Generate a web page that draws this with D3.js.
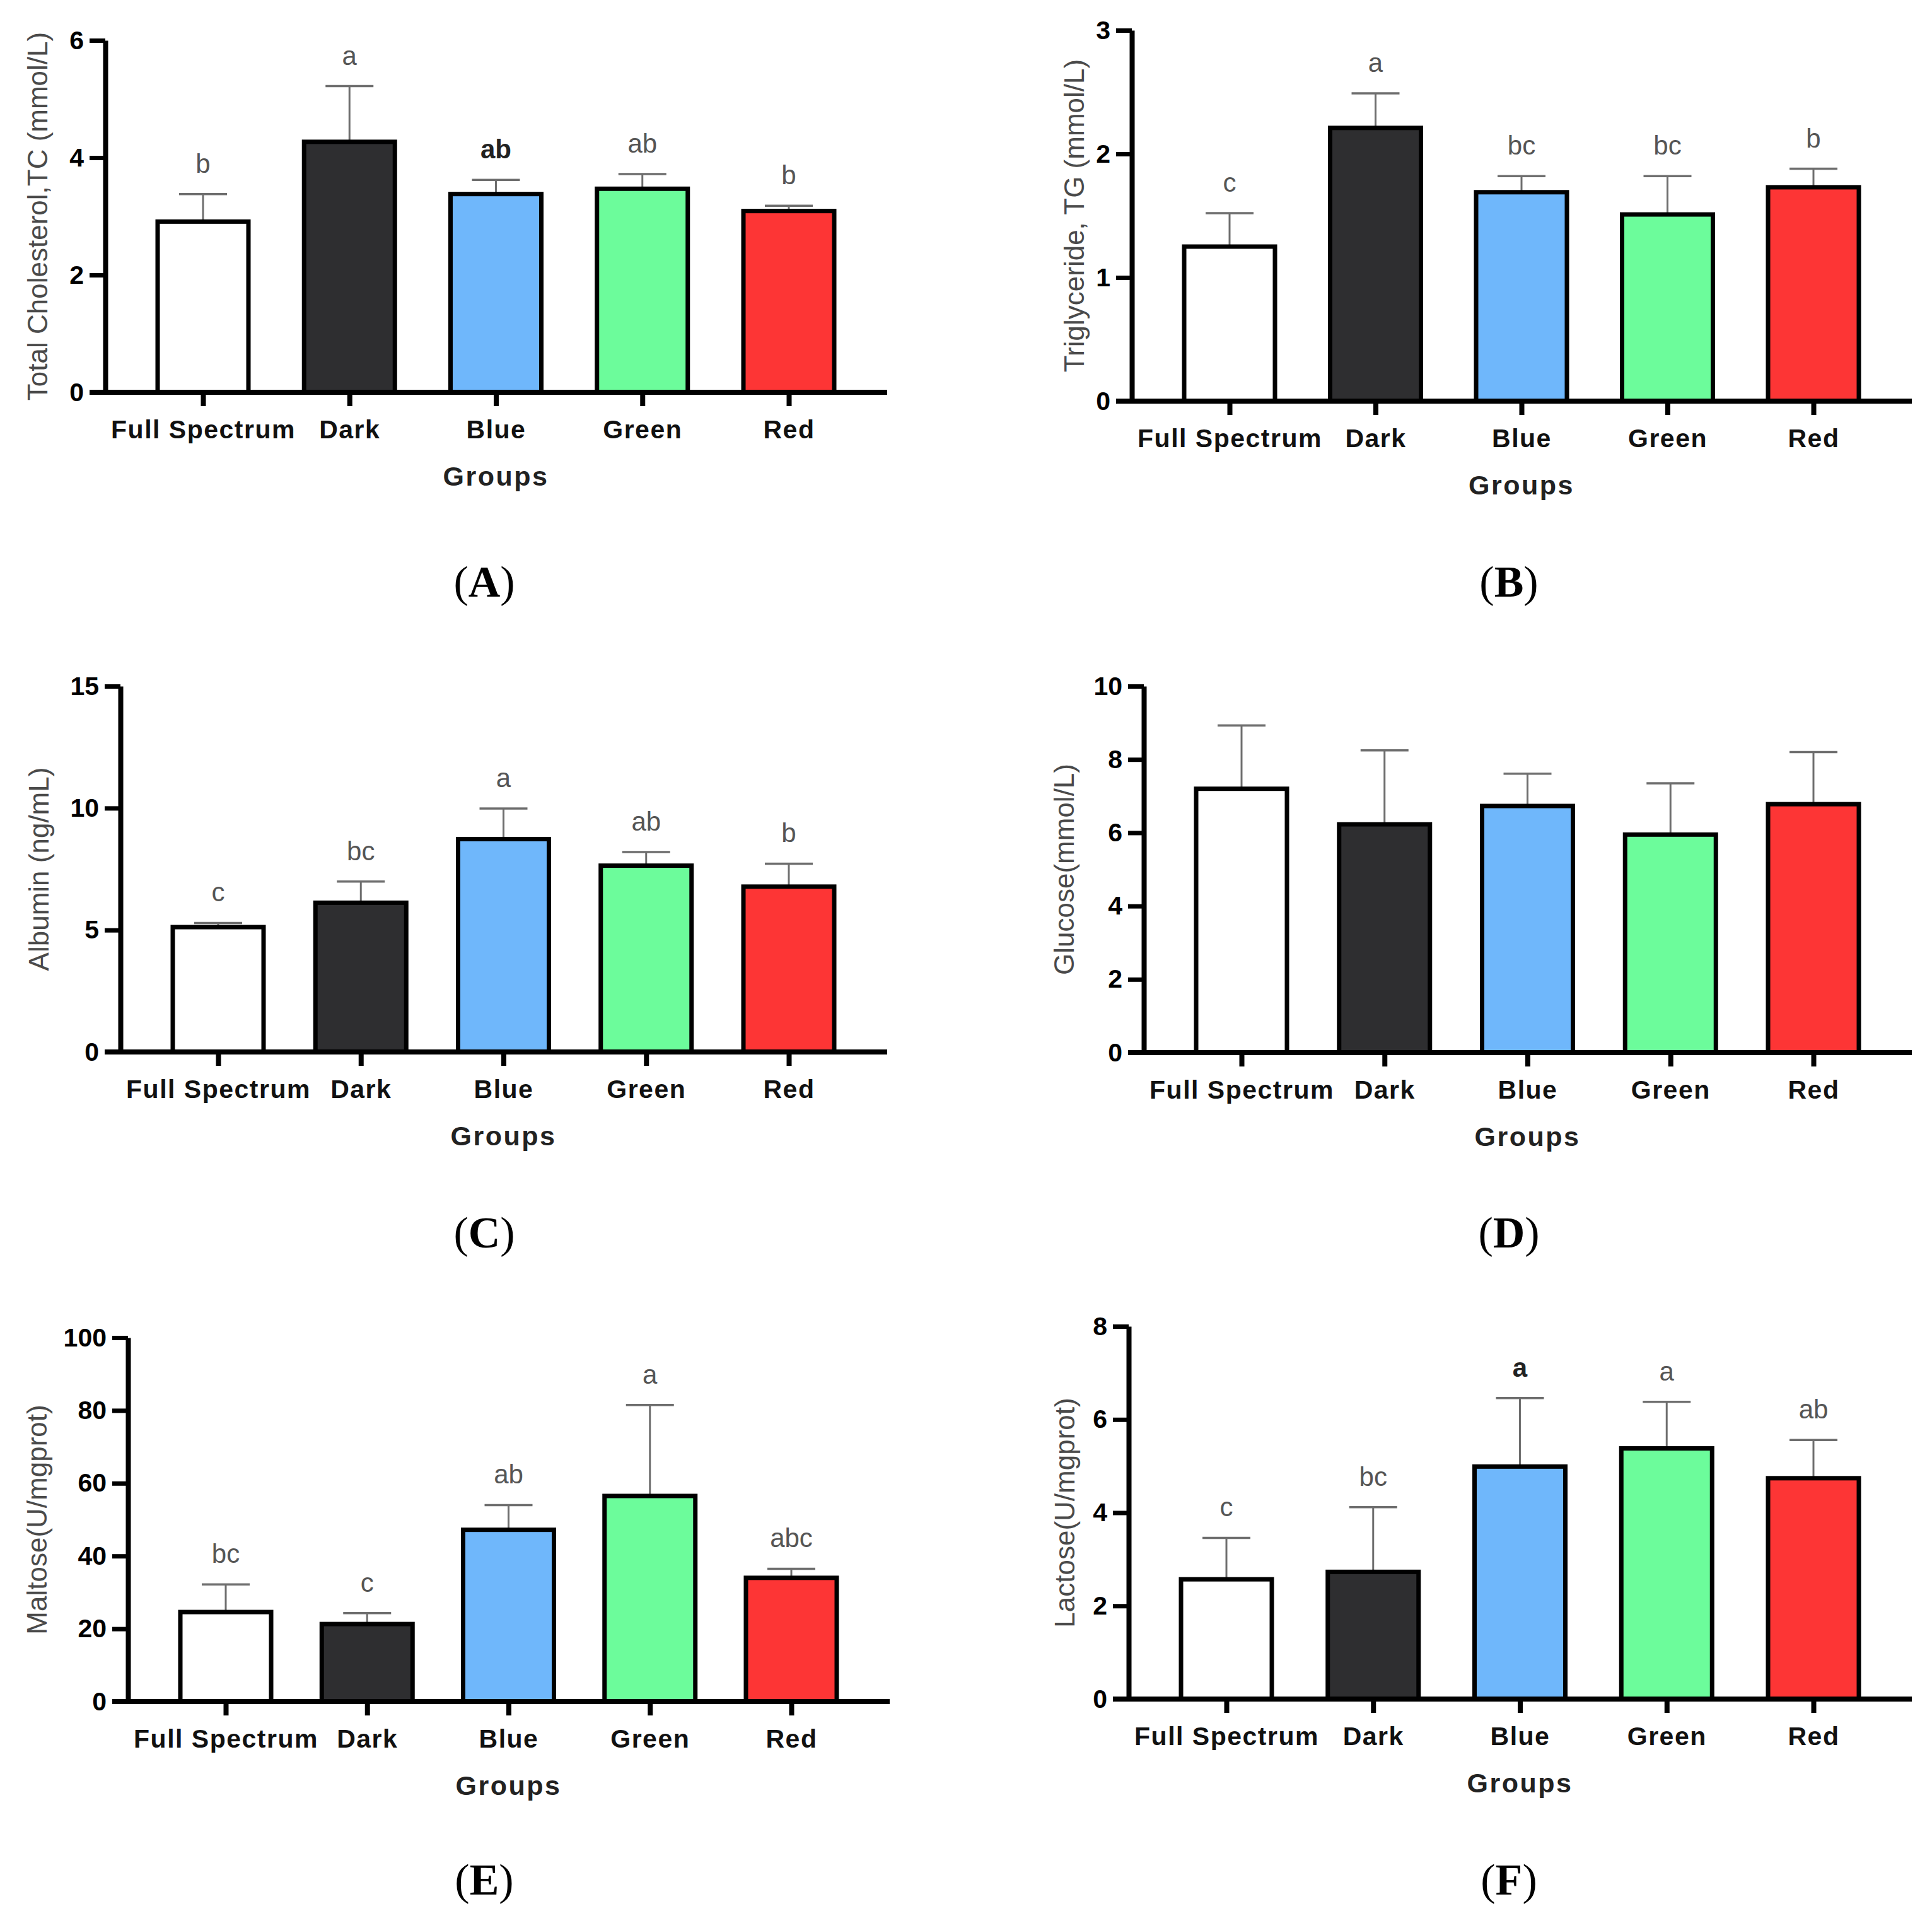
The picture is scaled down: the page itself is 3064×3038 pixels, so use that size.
<!DOCTYPE html>
<html>
<head>
<meta charset="utf-8">
<script src="https://cdn.jsdelivr.net/npm/d3@7"></script>
<style>
  body { margin: 0; background: #fff; }
  text { font-family: "Liberation Sans", Arial, sans-serif; }
</style>
</head>
<body>
<div id="chart"></div>
<script>
// values (mean and upper error = SD)
const categories = ["Full Spectrum", "Dark", "Blue", "Green", "Red"];
const barColors = ["#ffffff", "#2e2e30", "#6fb7fb", "#6cfc9b", "#fd3535"];

const tcMean = [2.91, 4.27, 3.38, 3.47, 3.09];
const tcSd = [0.47, 0.95, 0.24, 0.25, 0.09];
const tcLetters = ["b", "a", "ab", "ab", "b"];

const tgMean = [1.25, 2.21, 1.69, 1.51, 1.73];
const tgSd = [0.27, 0.28, 0.13, 0.31, 0.15];
const tgLetters = ["c", "a", "bc", "bc", "b"];

const albMean = [5.12, 6.12, 8.73, 7.64, 6.78];
const albSd = [0.17, 0.87, 1.25, 0.56, 0.94];
const albLetters = ["c", "bc", "a", "ab", "b"];

const gluMean = [7.20, 6.23, 6.73, 5.95, 6.78];
const gluSd = [1.73, 2.02, 0.88, 1.40, 1.42];

const malMean = [24.6, 21.3, 47.2, 56.5, 34.0];
const malSd = [7.6, 3.0, 6.8, 25.0, 2.5];
const malLetters = ["bc", "c", "ab", "a", "abc"];

const lacMean = [2.57, 2.73, 4.99, 5.38, 4.74];
const lacSd = [0.89, 1.39, 1.47, 1.00, 0.82];
const lacLetters = ["c", "bc", "a", "a", "ab"];

const tcTicks = [0, 2, 4, 6];
const tgTicks = [0, 1, 2, 3];
const albTicks = [0, 5, 10, 15];
const gluTicks = [0, 2, 4, 6, 8, 10];
const malTicks = [0, 20, 40, 60, 80, 100];
const lacTicks = [0, 2, 4, 6, 8];

// panel layout
const panels = [
  { tag: "A", ylabel: "Total Cholesterol,TC (mmol/L)", mean: tcMean, sd: tcSd, letters: tcLetters, ticks: tcTicks, boldLetter: 2,
    x0: 167, x1: 1407, top: 64, zero: 622, labelX: 60, tagX: 768, tagY: 946 },
  { tag: "B", ylabel: "Triglyceride, TG (mmol/L)", mean: tgMean, sd: tgSd, letters: tgLetters, ticks: tgTicks, boldLetter: -1,
    x0: 1795, x1: 3032, top: 48, zero: 636, labelX: 1704, tagX: 2393, tagY: 946 },
  { tag: "C", ylabel: "Albumin (ng/mL)", mean: albMean, sd: albSd, letters: albLetters, ticks: albTicks, boldLetter: -1,
    x0: 191, x1: 1407, top: 1088, zero: 1668, labelX: 62, tagX: 768, tagY: 1978 },
  { tag: "D", ylabel: "Glucose(mmol/L)", mean: gluMean, sd: gluSd, letters: null, ticks: gluTicks, boldLetter: -1,
    x0: 1814, x1: 3032, top: 1088, zero: 1669, labelX: 1688, tagX: 2393, tagY: 1978 },
  { tag: "E", ylabel: "Maltose(U/mgprot)", mean: malMean, sd: malSd, letters: malLetters, ticks: malTicks, boldLetter: -1,
    x0: 203, x1: 1411, top: 2121, zero: 2698, labelX: 59, tagX: 768, tagY: 3004 },
  { tag: "F", ylabel: "Lactose(U/mgprot)", mean: lacMean, sd: lacSd, letters: lacLetters, ticks: lacTicks, boldLetter: 2,
    x0: 1790, x1: 3032, top: 2103, zero: 2694, labelX: 1689, tagX: 2393, tagY: 3004 }
];

const svg = d3.select("#chart").append("svg")
    .attr("width", 3064)
    .attr("height", 3038)
    .style("background", "#fff");

const barWidth = 144;
const capWidth = 76;

panels.forEach(p => {
    const g = svg.append("g");
    const rows = categories.map((c, i) => ({ cat: c, mean: p.mean[i], sd: p.sd[i], color: barColors[i], i }));

    const x = d3.scalePoint()
        .domain(categories)
        .range([p.x0 + 155, p.x1 - 156]);

    const y = d3.scaleLinear()
        .domain([0, d3.max(p.ticks)])
        .range([p.zero, p.top]);

    // error bars (upper only), drawn under the bars
    g.selectAll("line.err")
      .data(rows)
      .join("line")
        .attr("class", "err")
        .attr("x1", d => x(d.cat))
        .attr("x2", d => x(d.cat))
        .attr("y1", d => y(d.mean))
        .attr("y2", d => y(d.mean + d.sd))
        .attr("stroke", "#6e6e6e")
        .attr("stroke-width", 3);

    g.selectAll("line.cap")
      .data(rows)
      .join("line")
        .attr("class", "cap")
        .attr("x1", d => x(d.cat) - capWidth / 2)
        .attr("x2", d => x(d.cat) + capWidth / 2)
        .attr("y1", d => y(d.mean + d.sd))
        .attr("y2", d => y(d.mean + d.sd))
        .attr("stroke", "#6e6e6e")
        .attr("stroke-width", 3.5);

    g.selectAll("rect")
      .data(rows)
      .join("rect")
        .attr("x", d => x(d.cat) - barWidth / 2)
        .attr("width", barWidth)
        .attr("y", d => y(d.mean))
        .attr("height", d => y(0) - y(d.mean))
        .attr("fill", d => d.color)
        .attr("stroke", "#000")
        .attr("stroke-width", 7);

    // y axis
    const yAxis = g.append("g")
        .attr("transform", `translate(${p.x0},0)`)
        .call(d3.axisLeft(y).tickValues(p.ticks).tickFormat(d3.format("d"))
            .tickSize(25).tickSizeOuter(0).tickPadding(9));
    yAxis.select(".domain").attr("stroke-width", 8).attr("stroke", "#000");
    yAxis.selectAll(".tick line").attr("stroke-width", 7).attr("stroke", "#000");
    yAxis.selectAll("text")
        .attr("fill", "#000")
        .style("font-size", "41px")
        .style("font-weight", "bold")
        .style("font-family", "'Liberation Sans', Arial, sans-serif");

    // x axis
    const xAxis = g.append("g")
        .attr("transform", `translate(0,${y(0)})`)
        .call(d3.axisBottom(x).tickSize(22).tickSizeOuter(0).tickPadding(22));
    xAxis.select(".domain").remove();
    xAxis.append("line")
        .attr("x1", p.x0 - 25)
        .attr("x2", p.x1)
        .attr("stroke", "#000")
        .attr("stroke-width", 8);
    xAxis.selectAll(".tick line").attr("stroke-width", 8).attr("stroke", "#000");
    xAxis.selectAll("text")
        .attr("fill", "#111")
        .style("font-size", "41px")
        .style("font-weight", "bold")
        .style("letter-spacing", "1.5px")
        .style("font-family", "'Liberation Sans', Arial, sans-serif");

    // significance letters
    if (p.letters) {
        g.selectAll("text.sig")
          .data(rows)
          .join("text")
            .attr("class", "sig")
            .attr("x", d => x(d.cat))
            .attr("y", d => y(d.mean + d.sd) - 34)
            .attr("text-anchor", "middle")
            .style("font-size", "42px")
            .style("font-weight", d => d.i === p.boldLetter ? "bold" : "normal")
            .style("fill", d => d.i === p.boldLetter ? "#222" : "#555")
            .text(d => p.letters[d.i]);
    }

    // axis titles
    g.append("text")
        .attr("transform", `translate(${p.labelX},${(p.top + p.zero) / 2}) rotate(-90)`)
        .attr("text-anchor", "middle")
        .attr("dy", "0.35em")
        .style("font-size", "44px")
        .style("fill", "#4a4a4a")
        .text(p.ylabel);

    g.append("text")
        .attr("x", x("Blue"))
        .attr("y", y(0) + 148)
        .attr("text-anchor", "middle")
        .style("font-size", "43px")
        .style("font-weight", "bold")
        .style("letter-spacing", "2.5px")
        .style("fill", "#222")
        .text("Groups");

    // panel tag (A), (B)...
    const tag = g.append("text")
        .attr("x", p.tagX)
        .attr("y", p.tagY)
        .attr("text-anchor", "middle")
        .style("font-family", "'Liberation Serif', 'Times New Roman', serif")
        .style("font-size", "70px")
        .style("fill", "#000");
    tag.append("tspan").text("(");
    tag.append("tspan").style("font-weight", "bold").text(p.tag);
    tag.append("tspan").text(")");
});
</script>
</body>
</html>
